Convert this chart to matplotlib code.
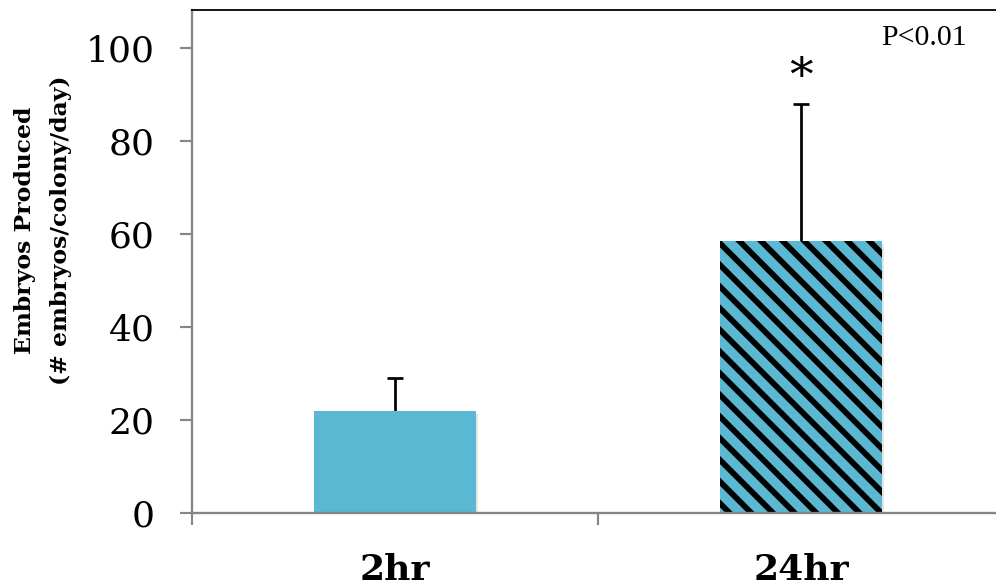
import matplotlib
matplotlib.use("Agg")
import matplotlib.pyplot as plt
from matplotlib.patches import Rectangle

# ------------------------------------------------------------------ data ----
groups = ["2hr", "24hr"]
means = [22.0, 58.5]
err = [7.0, 29.5]
hatches = ["", "\\\\"]
y_ticks = [0, 20, 40, 60, 80, 100]

BAR = "#5BB8D2"
GRID_GREY = "#868686"

DPI = 130
plt.rcParams["hatch.linewidth"] = 3.2

fig = plt.figure(figsize=(996 / DPI, 588 / DPI), dpi=DPI)
# plot area runs a little past the right edge of the canvas
ax = fig.add_axes([192 / 996, 75 / 588, 812 / 996, 503 / 588])

x = [1, 2]
# soft drop shadow under each bar
for xi, m in zip(x, means):
    ax.add_patch(Rectangle((xi - 0.2 + 0.005, -0.6), 0.4, m, facecolor="#000000",
                           alpha=0.10, edgecolor="none", zorder=1))

# symmetric bars drawn beneath the columns, so only the upper half shows
ax.errorbar(x, means, yerr=err, fmt="none", ecolor="black",
            elinewidth=1.5, capsize=4.4, capthick=1.5, zorder=1.5)

bars = ax.bar(x, means, width=0.40, color=BAR, edgecolor="black", linewidth=0,
              zorder=2)
for b, h in zip(bars, hatches):
    b.set_hatch(h)

ax.set_xlim(0.5, 2.5)
ax.set_ylim(0, 108.2)

# y axis
ax.set_yticks(y_ticks)
ax.set_yticklabels([str(v) for v in y_ticks], family="DejaVu Serif", fontsize=20)
ax.tick_params(axis="y", direction="out", length=6.6, width=1.2,
               color=GRID_GREY, pad=14)

# category labels, with tick marks on category boundaries
ax.set_xticks(x)
ax.set_xticklabels(groups, family="DejaVu Serif", fontweight="bold", fontsize=20)
ax.tick_params(axis="x", which="major", length=0, pad=22)
ax.set_xticks([0.5, 1.5, 2.5], minor=True)
ax.tick_params(axis="x", which="minor", direction="out", length=6.6, width=1.2,
               color=GRID_GREY)

for side in ("left", "bottom"):
    ax.spines[side].set_color(GRID_GREY)
    ax.spines[side].set_linewidth(1.3)
ax.spines["top"].set_color("#1a1a1a")
ax.spines["top"].set_linewidth(1.1)
ax.spines["right"].set_visible(False)

ax.text(2, 93.5, "*", family="DejaVu Serif", fontsize=26, ha="center",
        va="center")
ax.text(0.954, 0.944, "P<0.01", transform=ax.transAxes, family="Liberation Serif",
        fontsize=16.5, ha="right", va="center")

fig.text(43 / 996, 1 - 230 / 588,
         "Embryos Produced\n(# embryos/colony/day)", rotation=90,
         family="DejaVu Serif", fontweight="bold", fontsize=13,
         ha="center", va="center", multialignment="center", linespacing=1.8)

fig.savefig("out.png", dpi=DPI)
